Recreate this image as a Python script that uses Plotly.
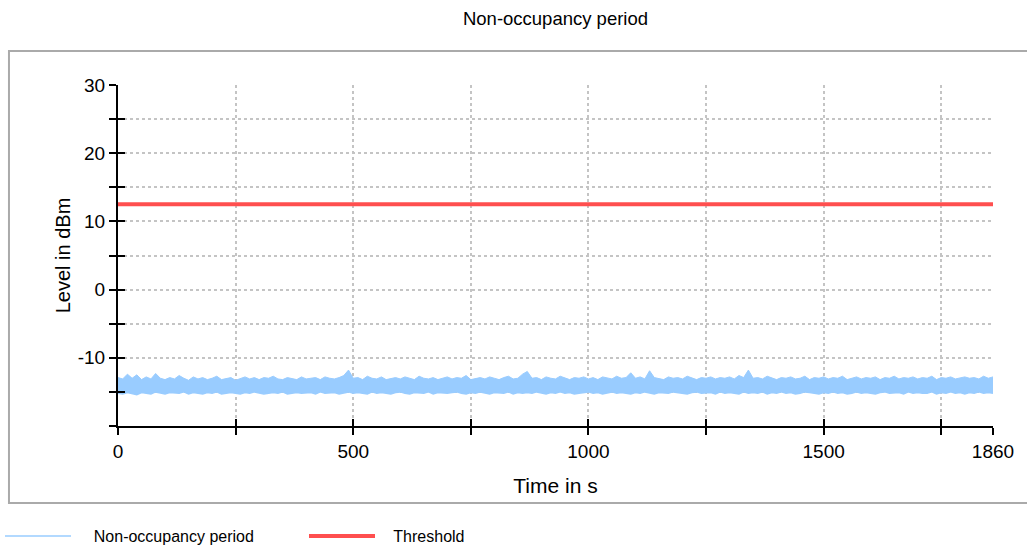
import plotly.graph_objects as go

# ---- data ----
time_s = list(range(0, 1861, 10))  # sample grid, 10 s

level_upper = [
    -12.9, -13.1, -12.4, -13.0, -12.5, -13.2, -12.8, -13.1, -12.3, -13.0,
    -13.2, -12.9, -13.1, -12.6, -13.0, -13.3, -12.8, -13.1, -12.9, -13.2,
    -13.0, -12.7, -13.2, -13.0, -12.9, -13.3, -13.0, -12.8, -13.1, -12.9,
    -13.2, -12.9, -13.0, -12.7, -13.1, -13.2, -12.9, -13.0, -13.2, -12.8,
    -13.1, -13.0, -12.9, -13.2, -12.8, -13.0, -13.1, -12.9, -12.6, -11.8,
    -13.0, -12.9, -13.2, -12.7, -13.0, -13.1, -12.8, -13.2, -13.0, -12.9,
    -13.1, -12.8, -13.0, -13.2, -12.7, -13.0, -13.1, -12.9, -13.2, -13.0,
    -12.8, -13.1, -12.9, -13.0, -12.6, -13.2, -13.0, -12.9, -13.1, -12.8,
    -13.0, -13.2, -12.9, -12.7, -13.1, -13.0, -12.4, -12.0, -13.0, -12.9,
    -13.2, -12.8, -13.0, -13.1, -12.7, -13.0, -13.2, -12.9, -13.0, -12.8,
    -13.1, -12.9, -13.2, -12.8, -13.0, -13.1, -12.7, -13.0, -12.9, -12.2,
    -13.0, -12.8, -13.1, -11.9, -12.9, -13.0, -13.2, -12.8, -13.0, -12.9,
    -13.1, -12.7, -13.0, -13.2, -12.9, -13.0, -12.8, -13.1, -12.9, -13.0,
    -12.8, -13.1, -12.6, -12.9, -11.8, -13.0, -12.9, -13.1, -12.7, -13.0,
    -13.2, -12.9, -13.0, -12.8, -13.1, -13.0, -12.7, -13.2, -12.9, -13.0,
    -12.8, -13.1, -12.9, -13.0, -12.7, -13.2, -13.0, -12.8, -13.1, -12.9,
    -13.0, -12.8, -13.2, -12.9, -13.0, -12.7, -13.1, -12.9, -13.0, -12.8,
    -13.1, -12.9, -13.0, -12.7, -13.2, -12.9, -13.0, -12.8, -13.1, -12.9,
    -12.8, -13.0, -12.9, -13.1, -12.7, -13.0, -12.8,
]

level_lower = [
    -15.2, -15.3, -15.1, -15.2, -15.4, -15.1, -15.2, -15.3, -15.0, -15.2,
    -15.3, -15.1, -15.2, -15.2, -15.0, -15.3, -15.1, -15.2, -15.3, -15.1,
    -15.2, -15.0, -15.3, -15.2, -15.1, -15.2, -15.3, -15.1, -15.2, -15.0,
    -15.1, -15.3, -15.2, -15.1, -15.2, -15.0, -15.3, -15.2, -15.1, -15.2,
    -15.2, -15.1, -15.3, -15.0, -15.2, -15.2, -15.1, -15.3, -15.2, -15.0,
    -15.2, -15.1, -15.2, -15.3, -15.0, -15.2, -15.1, -15.2, -15.3, -15.1,
    -15.0, -15.2, -15.3, -15.1, -15.2, -15.2, -15.0, -15.3, -15.1, -15.2,
    -15.2, -15.1, -15.0, -15.2, -15.3, -15.1, -15.2, -15.0, -15.2, -15.3,
    -15.1, -15.2, -15.2, -15.0, -15.3, -15.1, -15.2, -15.1, -15.2, -15.0,
    -15.2, -15.3, -15.1, -15.2, -15.0, -15.2, -15.1, -15.3, -15.2, -15.1,
    -15.0, -15.2, -15.1, -15.3, -15.2, -15.0, -15.2, -15.1, -15.2, -15.3,
    -15.1, -15.2, -15.0, -15.2, -15.3, -15.1, -15.2, -15.2, -15.0, -15.1,
    -15.2, -15.3, -15.1, -15.0, -15.2, -15.2, -15.1, -15.3, -15.0, -15.2,
    -15.1, -15.2, -15.3, -15.0, -15.2, -15.1, -15.2, -15.0, -15.3, -15.1,
    -15.2, -15.0, -15.2, -15.1, -15.3, -15.2, -15.0, -15.1, -15.2, -15.3,
    -15.1, -15.2, -15.0, -15.2, -15.1, -15.3, -15.2, -15.0, -15.2, -15.1,
    -15.2, -15.3, -15.1, -15.0, -15.2, -15.2, -15.1, -15.3, -15.0, -15.2,
    -15.1, -15.2, -15.2, -15.0, -15.3, -15.1, -15.2, -15.0, -15.2, -15.1,
    -15.3, -15.1, -15.2, -15.0, -15.2, -15.1, -15.2,
]

threshold_level = 12.5
threshold_time = [0, 1860]

x_tickvals = [0, 250, 500, 750, 1000, 1250, 1500, 1750, 1860]
x_ticktext = ["0", "", "500", "", "1000", "", "1500", "", "1860"]
y_tickvals = [-20, -15, -10, -5, 0, 5, 10, 15, 20, 25, 30]
y_ticktext = ["", "", "-10", "", "0", "", "10", "", "20", "", "30"]

FONT = "Liberation Sans, Arial, sans-serif"
BLUE = "#99ccff"
RED = "#ff4f4f"
NB = "\u00a0"

fig = go.Figure()

fig.add_trace(go.Scatter(
    x=time_s, y=level_lower, mode="lines", name=NB * 4 + "Non-occupancy period",
    line=dict(color=BLUE, width=1.5), showlegend=True,
))
fig.add_trace(go.Scatter(
    x=time_s, y=level_upper, mode="lines", name="Non-occupancy period",
    line=dict(color=BLUE, width=1), fill="tonexty", fillcolor=BLUE,
    showlegend=False,
))
fig.add_trace(go.Scatter(
    x=threshold_time, y=[threshold_level] * len(threshold_time), mode="lines",
    name=NB * 3 + "Threshold", line=dict(color=RED, width=4),
    xaxis="x2", yaxis="y2",
))

axis_common = dict(showline=True, linecolor="black", linewidth=2,
                   ticks="outside", ticklen=7, tickwidth=2, tickcolor="black",
                   zeroline=False, tickfont=dict(family=FONT, size=19, color="black"))

fig.update_layout(
    width=1027, height=551, autosize=False,
    paper_bgcolor="white", plot_bgcolor="white",
    margin=dict(l=118, r=34, t=85, b=125),
    title=dict(text="Non-occupancy period", x=0.5, xref="paper", xanchor="center",
               y=0.967, yref="container", yanchor="middle",
               font=dict(family=FONT, size=18.5, color="black")),
    xaxis=dict(range=[0, 1860], tickmode="array", tickvals=x_tickvals, ticktext=x_ticktext,
               showgrid=True, gridcolor="#c4c4c4", griddash="dot", gridwidth=1.5,
               title=dict(text="Time in s", font=dict(family=FONT, size=21, color="black"), standoff=18),
               **axis_common),
    yaxis=dict(range=[-20, 30], tickmode="array", tickvals=y_tickvals, ticktext=y_ticktext,
               showgrid=True, gridcolor="#c4c4c4", griddash="dot", gridwidth=1.5,
               title=dict(text="Level in dBm", font=dict(family=FONT, size=20, color="black"), standoff=2),
               **axis_common),
    xaxis2=dict(overlaying="x", matches="x", anchor="y2", range=[0, 1860],
                tickmode="array", tickvals=x_tickvals, ticks="inside", ticklen=7, tickwidth=2,
                tickcolor="black", showticklabels=False, showgrid=False, showline=False, zeroline=False),
    yaxis2=dict(overlaying="y", matches="y", anchor="x2", range=[-20, 30],
                tickmode="array", tickvals=y_tickvals, ticks="inside", ticklen=7, tickwidth=2,
                tickcolor="black", showticklabels=False, showgrid=False, showline=False, zeroline=False),
    legend=dict(orientation="h", xref="container", yref="container", x=0.0, y=0.027,
                xanchor="left", yanchor="middle", itemwidth=66, traceorder="normal",
                entrywidth=223, entrywidthmode="pixels",
                font=dict(family=FONT, size=16, color="black"), bgcolor="rgba(0,0,0,0)"),
    shapes=[dict(type="rect", xref="paper", yref="paper",
                 x0=-0.1246, x1=1.06, y0=-0.2258, y1=1.0997,
                 line=dict(color="#aaaaaa", width=2), fillcolor="rgba(0,0,0,0)", layer="below")],
    showlegend=True,
)

fig.write_html("out.html")
